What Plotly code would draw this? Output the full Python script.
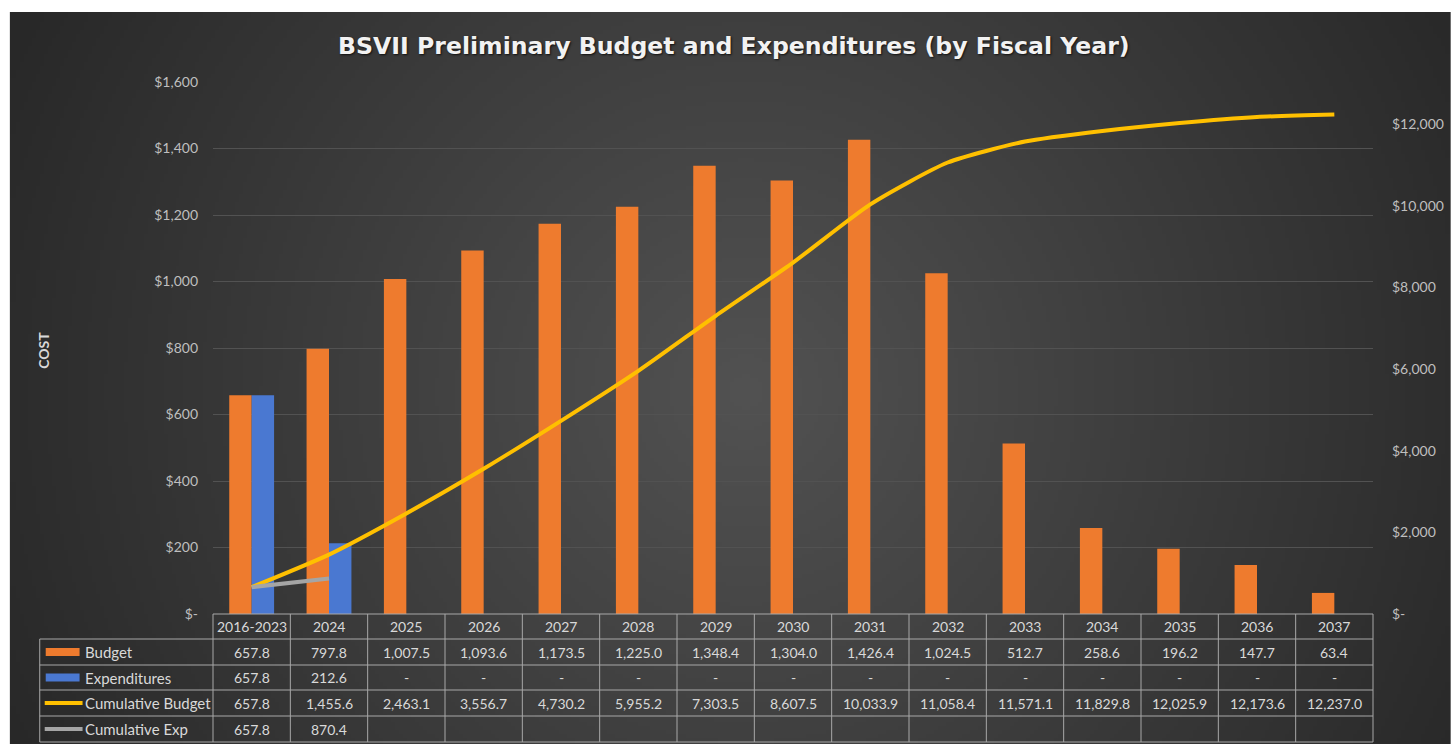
import base64, struct, zlib
import numpy as np
import plotly.graph_objects as go

# ---------------- data ----------------
categories = ["2016-2023", "2024", "2025", "2026", "2027", "2028", "2029", "2030",
              "2031", "2032", "2033", "2034", "2035", "2036", "2037"]
budget = [657.8, 797.8, 1007.5, 1093.6, 1173.5, 1225.0, 1348.4, 1304.0,
          1426.4, 1024.5, 512.7, 258.6, 196.2, 147.7, 63.4]
expenditures = [657.8, 212.6, 0, 0, 0, 0, 0, 0, 0, 0, 0, 0, 0, 0, 0]
cum_budget = [657.8, 1455.6, 2463.1, 3556.7, 4730.2, 5955.2, 7303.5, 8607.5,
              10033.9, 11058.4, 11571.1, 11829.8, 12025.9, 12173.6, 12237.0]
cum_exp = [657.8, 870.4]
left_ticks = [0, 200, 400, 600, 800, 1000, 1200, 1400, 1600]
right_ticks = [0, 2000, 4000, 6000, 8000, 10000, 12000]
row_labels = ["Budget", "Expenditures", "Cumulative Budget", "Cumulative Exp"]
title_text = "BSVII Preliminary Budget and Expenditures (by Fiscal Year)"

# ---------------- style ----------------
W, H = 1456, 744
L, R, T, B = 213, 1378, 82, 614   # plot area in page pixels
ORANGE = "#EE7B2E"
BLUE = "#4A78D1"
YELLOW = "#FFC000"
GRAY = "#A5A5A5"
TXT = "#D9D9D9"
AX = "#BFBFBF"
GRID = "#525252"
TLINE = "#A8A8A8"
FONT = "Lato"


def px(x):
    return (x - L) / (R - L)


def py(y):
    return (B - y) / (B - T)


def dollars(v):
    return "$-" if v == 0 else "${:,.0f}".format(v)


def num(v):
    return "-" if v == 0 else "{:,.1f}".format(v)


# ---------------- background (radial gradient) ----------------
def make_png(arr):
    h, w, _ = arr.shape
    raw = b"".join(b"\x00" + arr[i].tobytes() for i in range(h))

    def chunk(tag, data):
        c = struct.pack(">I", len(data)) + tag + data
        return c + struct.pack(">I", zlib.crc32(tag + data) & 0xFFFFFFFF)

    return (b"\x89PNG\r\n\x1a\n" + chunk(b"IHDR", struct.pack(">IIBBBBB", w, h, 8, 2, 0, 0, 0))
            + chunk(b"IDAT", zlib.compress(raw, 9)) + chunk(b"IEND", b""))


bx0, by0, bx1, by1 = 9, 12, W, H
sc = 4
gw, gh = (bx1 - bx0) // sc, (by1 - by0) // sc
yy, xx = np.mgrid[0:gh, 0:gw]
xp = bx0 + xx * sc
yp = by0 + yy * sc
cx, cy = 745, 390
d = np.sqrt((xp - cx) ** 2 + (yp - cy) ** 2)
t = np.clip(d / 820.0, 0, 1)
val = 82 - (82 - 40) * t
img = np.clip(np.stack([val, val, val], axis=-1), 0, 255).astype(np.uint8)
bg_uri = "data:image/png;base64," + base64.b64encode(make_png(img)).decode()

# ---------------- figure ----------------
fig = go.Figure()
fig.add_trace(go.Bar(x=categories, y=budget, name="Budget", marker=dict(color=ORANGE, line_width=0)))
fig.add_trace(go.Bar(x=categories, y=[v if v else None for v in expenditures], name="Expenditures",
                     marker=dict(color=BLUE, line_width=0)))
fig.add_trace(go.Scatter(x=categories, y=cum_budget, name="Cumulative Budget", yaxis="y2", mode="lines",
                         line=dict(color=YELLOW, width=4, shape="spline", smoothing=0.6)))
fig.add_trace(go.Scatter(x=categories[:len(cum_exp)], y=cum_exp, name="Cumulative Exp", yaxis="y2",
                         mode="lines", line=dict(color=GRAY, width=4)))

shapes = []
annotations = []

# table grid
rows_y = [614, 639, 665, 690, 716, 742]
ncol = len(categories)
col_w = (R - L) / ncol
line = dict(color=TLINE, width=1)
shapes.append(dict(type="line", xref="paper", yref="paper", x0=px(L), x1=px(R), y0=py(rows_y[0]), y1=py(rows_y[0]), line=line))
for y in rows_y[1:]:
    shapes.append(dict(type="line", xref="paper", yref="paper", x0=px(39), x1=px(R), y0=py(y), y1=py(y), line=line))
shapes.append(dict(type="line", xref="paper", yref="paper", x0=px(39), x1=px(39), y0=py(rows_y[1]), y1=py(rows_y[-1]), line=line))
for k in range(ncol + 1):
    xk = L + k * col_w
    shapes.append(dict(type="line", xref="paper", yref="paper", x0=px(xk), x1=px(xk), y0=py(rows_y[0]), y1=py(rows_y[-1]), line=line))

# legend keys in the table
row_c = [(rows_y[i] + rows_y[i + 1]) / 2 for i in range(len(rows_y) - 1)]
shapes.append(dict(type="rect", xref="paper", yref="paper", x0=px(45), x1=px(79), y0=py(row_c[1] - 4), y1=py(row_c[1] + 4),
                   fillcolor=ORANGE, line_width=0))
shapes.append(dict(type="rect", xref="paper", yref="paper", x0=px(45), x1=px(79), y0=py(row_c[2] - 4), y1=py(row_c[2] + 4),
                   fillcolor=BLUE, line_width=0))
shapes.append(dict(type="line", xref="paper", yref="paper", x0=px(44), x1=px(82), y0=py(row_c[3]), y1=py(row_c[3]),
                   line=dict(color=YELLOW, width=4)))
shapes.append(dict(type="line", xref="paper", yref="paper", x0=px(44), x1=px(82), y0=py(row_c[4]), y1=py(row_c[4]),
                   line=dict(color=GRAY, width=4)))

for i, lab in enumerate(row_labels):
    annotations.append(dict(text=lab, xref="paper", yref="paper", x=px(82), y=py(row_c[i + 1]), xanchor="left",
                            yanchor="middle", showarrow=False, font=dict(family=FONT, size=15, color=TXT)))

rows_text = [
    categories,
    [num(v) for v in budget],
    [num(v) for v in expenditures],
    [num(v) for v in cum_budget],
    [num(v) for v in cum_exp] + [""] * (ncol - len(cum_exp)),
]
fnt = dict(family=FONT, size=14, color=TXT)
for r, vals in enumerate(rows_text):
    for c, s in enumerate(vals):
        if s == "":
            continue
        annotations.append(dict(text=s, xref="paper", yref="paper", x=px(L + (c + 0.5) * col_w), y=py(row_c[r]),
                                xanchor="center", yanchor="middle", showarrow=False, font=fnt))

# title and axis title
annotations.append(dict(text="<b>" + title_text + "</b>", xref="paper", yref="paper", x=px(736), y=py(46),
                        xanchor="center", yanchor="middle", showarrow=False,
                        font=dict(family="DejaVu Sans", size=23.6, color="#F2F2F2", shadow="1px 1px 2px #111111")))
annotations.append(dict(text="<b>COST</b>", xref="paper", yref="paper", x=px(42), y=py(350), textangle=-90,
                        xanchor="center", yanchor="middle", showarrow=False,
                        font=dict(family=FONT, size=14, color=TXT)))

fig.update_layout(
    width=W, height=H,
    margin=dict(l=L, r=W - R, t=T, b=H - B, pad=0),
    paper_bgcolor="white",
    plot_bgcolor="rgba(0,0,0,0)",
    showlegend=False,
    barmode="group", bargap=0.42, bargroupgap=0,
    font=dict(family=FONT, color=AX, size=14),
    xaxis=dict(type="category", showticklabels=False, showgrid=False, zeroline=False, showline=False,
               ticks="", range=[-0.5, ncol - 0.5]),
    yaxis=dict(range=[0, 1600], tickvals=left_ticks, ticktext=[dollars(v) for v in left_ticks],
               showgrid=True, gridcolor=GRID, gridwidth=1, zeroline=False, showline=False, ticks="",
               ticklabelstandoff=14, tickfont=dict(family=FONT, size=14, color=AX)),
    yaxis2=dict(range=[0, 13030], overlaying="y", side="right", tickvals=right_ticks,
                ticktext=[dollars(v) for v in right_ticks], showgrid=False, zeroline=False, showline=False,
                ticks="", ticklabelstandoff=18, tickfont=dict(family=FONT, size=14, color=AX)),
    shapes=shapes,
    annotations=annotations,
    images=[dict(source=bg_uri, xref="paper", yref="paper", x=px(bx0), y=py(by0),
                 sizex=px(bx1) - px(bx0), sizey=py(by0) - py(by1), sizing="stretch",
                 xanchor="left", yanchor="top", layer="below")],
)

fig.write_html(
    "out.html",
    config={"displayModeBar": False, "responsive": False},
    post_script=("document.documentElement.style.overflow='hidden';"
                 "document.body.style.overflow='hidden';"
                 "document.body.style.margin='0';"
                 "document.body.style.background='#282828';"),
)
